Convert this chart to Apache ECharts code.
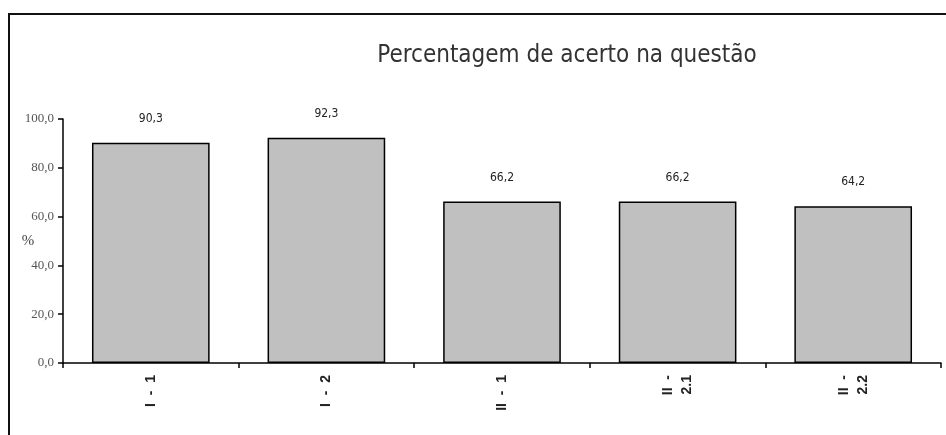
<!DOCTYPE html>
<html>
<head>
<meta charset="utf-8">
<script src="https://cdn.jsdelivr.net/npm/echarts@6/dist/echarts.min.js"></script>
<style>
html,body{margin:0;padding:0;background:#fff;}
#c{width:946px;height:435px;}
</style>
</head>
<body>
<div id="c"></div>
<script>
const titleText = 'Percentagem de acerto na questão';
const categories = ['I  -  1', 'I  -  2', 'II  -  1', 'II  -\n2.1', 'II  -\n2.2'];
const values = [90.3, 92.3, 66.2, 66.2, 64.2];
const yTicks = [0, 20, 40, 60, 80, 100];

const fmt = v => v.toFixed(1).replace('.', ',');

const chart = echarts.init(document.getElementById('c'));
chart.setOption({
  animation: false,
  backgroundColor: '#fff',
  title: {
    text: titleText,
    left: 562, top: 39, textAlign: 'center',
    textStyle: {fontFamily: '"DejaVu Sans Condensed", "Liberation Sans Narrow", sans-serif', fontSize: 24, fontWeight: 'normal', color: '#333'}
  },
  graphic: [
    {type: 'rect', shape: {x: 9, y: 14, width: 1000, height: 500}, style: {fill: 'none', stroke: '#111', lineWidth: 2}, z: 0}
  ],
  grid: {left: 63, right: 5, top: 119, bottom: 72},
  xAxis: {
    type: 'category', data: categories,
    axisLine: {lineStyle: {color: '#000', width: 1.5}},
    axisTick: {show: true, length: 5, lineStyle: {color: '#000', width: 1.5}},
    axisLabel: {rotate: 90, fontFamily: 'Liberation Sans, Arial, sans-serif', fontSize: 14, fontWeight: 'bold', color: '#222', margin: 12, lineHeight: 19}
  },
  yAxis: {
    type: 'value', min: 0, max: 100, interval: 20,
    name: '%', nameLocation: 'middle', nameGap: 35, nameRotate: 0, nameMoveOverlap: false,
    nameTextStyle: {fontFamily: 'Liberation Serif, serif', fontSize: 15, color: '#444', align: 'center'},
    axisLine: {show: true, lineStyle: {color: '#000', width: 1.5}},
    axisTick: {show: true, inside: false, length: 5, lineStyle: {color: '#000', width: 1.5}},
    splitLine: {show: false},
    axisLabel: {formatter: v => fmt(v), fontFamily: 'Liberation Serif, serif', fontSize: 13, color: '#555', margin: 9}
  },
  series: [{
    type: 'bar', data: values, barCategoryGap: '33%',
    itemStyle: {color: '#c0c0c0', borderColor: '#000', borderWidth: 1.5},
    label: {show: true, position: 'top', distance: 18, formatter: p => fmt(p.value), fontFamily: '"DejaVu Sans Condensed", "Liberation Sans", sans-serif', fontSize: 12, color: '#222'}
  }]
});
</script>
</body>
</html>
